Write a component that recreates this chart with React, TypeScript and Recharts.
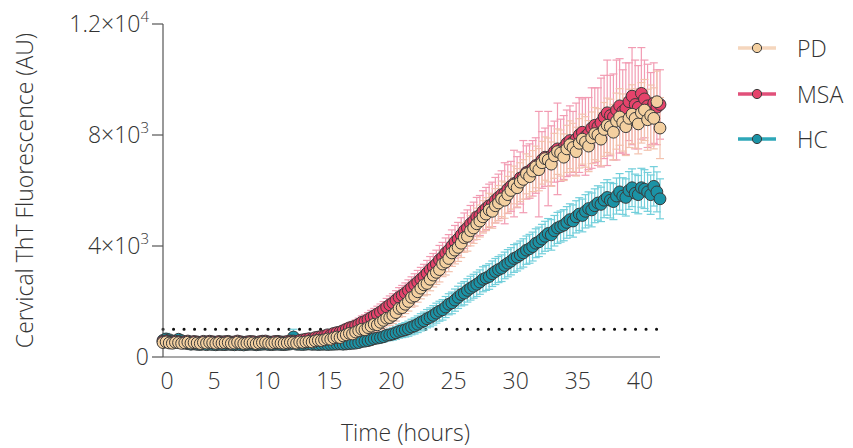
import React from "react";
import { ScatterChart, Scatter, XAxis, YAxis, ErrorBar, ReferenceLine, Label } from "recharts";

// readings every 15 min, 0 to 40 h
const HOURS_STEP = 0.25;

const PD_MEAN = [
  520, 545, 505, 495, 530, 515, 490, 510, 535, 500, 520, 505, 485, 525, 500, 530, 510, 490, 520, 500,
  510, 525, 490, 500, 535, 505, 485, 500, 520, 510, 480, 505, 525, 530, 500, 490, 515, 520, 500, 495,
  510, 530, 520, 500, 540, 525, 545, 560, 540, 580, 600, 590, 620, 650, 640, 690, 720, 700, 760, 800,
  850, 830, 900, 950, 1000, 980, 1060, 1110, 1180, 1160, 1250, 1320, 1400, 1420, 1500, 1600, 1750, 1780, 1900, 2000,
  2150, 2200, 2350, 2480, 2600, 2650, 2800, 2950, 3050, 3150, 3350, 3420, 3550, 3750, 3850, 3950, 4100, 4300, 4350, 4550,
  4650, 4800, 4900, 5050, 5150, 5300, 5250, 5450, 5550, 5700, 5650, 5850, 6000, 6200, 6100, 6300, 6400, 6600, 6500, 6700,
  6850, 6750, 7000, 7150, 7100, 6950, 7250, 7400, 7350, 7200, 7500, 7650, 7550, 7400, 7700, 7850, 7750, 7600, 7900, 8050,
  8000, 7850, 8200, 8350, 8300, 8100, 8500, 8650, 8450, 8300, 8600, 8750, 8600, 8400, 8800, 8900, 8550, 8700, 8600, 9200,
  8250,
];
const PD_ERR = [
  60, 65, 55, 60, 60, 55, 60, 65, 60, 55, 60, 60, 55, 60, 65, 60, 55, 60, 60, 55,
  60, 55, 60, 65, 60, 55, 60, 60, 55, 60, 65, 60, 55, 60, 60, 55, 60, 65, 60, 60,
  60, 65, 65, 70, 75, 80, 85, 90, 95, 100, 105, 110, 115, 120, 125, 130, 140, 150, 155, 160,
  170, 175, 180, 190, 200, 210, 215, 225, 235, 245, 255, 265, 275, 285, 295, 305, 315, 325, 335, 345,
  355, 365, 375, 385, 395, 405, 415, 425, 435, 445, 455, 465, 475, 485, 495, 505, 515, 525, 535, 545,
  555, 565, 575, 585, 595, 600, 610, 620, 630, 640, 650, 660, 670, 680, 690, 700, 710, 720, 730, 740,
  750, 760, 770, 780, 790, 800, 810, 820, 830, 840, 850, 860, 870, 880, 890, 900, 910, 920, 930, 940,
  950, 960, 970, 980, 990, 1000, 1010, 1020, 1030, 1040, 1050, 1060, 1070, 1080, 1090, 1100, 1100, 1100, 1100, 1100,
  1100,
];

const MSA_MEAN = [
  560, 580, 545, 540, 570, 555, 530, 550, 575, 540, 560, 545, 530, 565, 545, 570, 550, 535, 560, 545,
  555, 565, 535, 545, 575, 550, 530, 545, 560, 555, 525, 550, 570, 575, 545, 535, 560, 565, 545, 540,
  560, 580, 575, 560, 600, 620, 640, 660, 650, 700, 720, 740, 760, 800, 790, 850, 880, 900, 950, 1000,
  1050, 1080, 1120, 1180, 1250, 1280, 1350, 1420, 1480, 1550, 1620, 1700, 1800, 1880, 1950, 2050, 2150, 2220, 2300, 2400,
  2500, 2600, 2700, 2800, 2900, 3020, 3150, 3250, 3350, 3500, 3600, 3750, 3850, 4000, 4150, 4250, 4400, 4550, 4650, 4800,
  4900, 5050, 5100, 5250, 5350, 5450, 5500, 5650, 5750, 5850, 5900, 6050, 6150, 6250, 6300, 6450, 6500, 6650, 6700, 6800,
  6900, 6950, 7100, 7200, 7150, 7250, 7400, 7500, 7450, 7550, 7700, 7800, 7750, 7850, 8000, 8100, 7950, 8050, 8250, 8350,
  8300, 8450, 8650, 8800, 8700, 8650, 8900, 9050, 8850, 8950, 9200, 9400, 9100, 9000, 9500, 9300, 9050, 8950, 9150, 9000,
  9100,
];
const MSA_ERR = [
  80, 90, 70, 70, 80, 75, 70, 70, 80, 70, 75, 70, 70, 75, 70, 80, 70, 70, 75, 70,
  70, 75, 70, 70, 80, 70, 70, 70, 75, 70, 70, 70, 75, 80, 70, 70, 75, 75, 70, 70,
  75, 80, 80, 80, 90, 95, 100, 105, 110, 115, 120, 125, 130, 140, 145, 150, 160, 165, 175, 180,
  190, 200, 210, 220, 230, 240, 250, 260, 270, 280, 290, 300, 310, 320, 330, 340, 350, 360, 370, 380,
  390, 400, 420, 430, 440, 460, 470, 480, 500, 520, 530, 540, 560, 580, 590, 600, 620, 640, 650, 660,
  680, 700, 720, 740, 760, 780, 800, 820, 840, 860, 1100, 880, 900, 1200, 920, 940, 1300, 960, 980, 1000,
  1000, 1900, 1020, 1050, 1700, 1080, 1100, 1650, 1120, 1150, 1200, 1250, 1100, 1300, 1350, 1200, 1400, 1300, 1450, 1350,
  1400, 1600, 1500, 1900, 1450, 1550, 1800, 1700, 1500, 1650, 1400, 1750, 1600, 1500, 1650, 1400, 1500, 1300, 1450, 1350,
  1250,
];

const HC_MEAN = [
  600, 650, 620, 580, 520, 640, 590, 500, 480, 460, 470, 455, 450, 465, 445, 460, 450, 440, 455, 450,
  445, 460, 450, 440, 455, 445, 435, 450, 460, 455, 440, 450, 460, 465, 450, 445, 455, 460, 450, 445,
  455, 470, 720, 460, 455, 450, 460, 470, 455, 460, 450, 455, 460, 450, 455, 460, 465, 470, 460, 470,
  480, 490, 500, 520, 560, 570, 590, 620, 660, 680, 700, 730, 780, 800, 830, 870, 920, 950, 980, 1020,
  1080, 1120, 1180, 1250, 1300, 1380, 1430, 1500, 1580, 1650, 1700, 1800, 1900, 1950, 2050, 2150, 2250, 2300, 2400, 2480,
  2550, 2620, 2700, 2800, 2850, 2900, 3000, 3080, 3150, 3200, 3300, 3380, 3450, 3550, 3600, 3680, 3750, 3850, 3900, 3980,
  4100, 4150, 4250, 4350, 4450, 4400, 4550, 4650, 4700, 4750, 4850, 4950, 4900, 5050, 5150, 5100, 5250, 5350, 5300, 5450,
  5550, 5500, 5650, 5750, 5650, 5600, 5800, 5950, 5800, 5750, 6000, 6100, 5900, 5850, 6100, 6050, 5950, 5850, 6150, 5950,
  5700,
];
const HC_ERR = [
  150, 200, 150, 120, 100, 150, 120, 80, 60, 50, 50, 50, 50, 50, 50, 50, 50, 50, 50, 50,
  50, 45, 50, 55, 50, 45, 50, 50, 55, 50, 45, 50, 50, 55, 50, 45, 50, 50, 55, 50,
  50, 60, 280, 60, 50, 50, 55, 60, 55, 60, 60, 60, 65, 60, 70, 70, 75, 80, 80, 85,
  90, 95, 100, 110, 120, 130, 140, 150, 160, 170, 180, 190, 200, 210, 220, 230, 240, 250, 260, 270,
  280, 290, 300, 310, 320, 330, 340, 350, 360, 360, 370, 380, 380, 390, 400, 400, 410, 420, 420, 430,
  430, 440, 440, 450, 450, 460, 460, 470, 470, 480, 480, 490, 490, 500, 500, 500, 510, 510, 520, 520,
  520, 530, 530, 540, 540, 550, 550, 560, 560, 560, 570, 570, 580, 580, 590, 590, 600, 600, 610, 610,
  620, 620, 630, 640, 640, 650, 650, 660, 660, 670, 680, 680, 690, 690, 700, 700, 700, 710, 710, 720,
  720,
];

const X_TICKS = [0, 5, 10, 15, 20, 25, 30, 35, 40];
const Y_TICKS = [0, 4000, 8000, 12000];
const Y_TICK_TEXT: Record<number, [string, string]> = {
  0: ["0", ""],
  4000: ["4×10", "3"],
  8000: ["8×10", "3"],
  12000: ["1.2×10", "4"],
};
const THRESHOLD = 1000;

const SERIES = [
  { name: "PD", mean: PD_MEAN, err: PD_ERR, fill: "#f4d0a0", line: "#f5d6bd", bar: "#f3c2ae" },
  { name: "MSA", mean: MSA_MEAN, err: MSA_ERR, fill: "#e5436b", line: "#e1507a", bar: "#f29cb3" },
  { name: "HC", mean: HC_MEAN, err: HC_ERR, fill: "#1b93a6", line: "#2ea7b8", bar: "#72cfdb" },
];

const FONT = "'Open Sans', 'Noto Sans', sans-serif";
const INK = "#333";
const FS = 23;
const FW = 300;

const toPoints = (mean: number[], err: number[]) =>
  mean.map((v, i) => ({ t: i * HOURS_STEP, v, e: err[i] }));

const YTick = (props: any) => {
  const { x, y, payload } = props;
  const [base, sup] = Y_TICK_TEXT[payload.value] ?? [String(payload.value), ""];
  return (
    <text x={x - 1} y={y} dy="0.36em" textAnchor="end" fontFamily={FONT} fontWeight={FW} fontSize={FS} fill={INK}>
      <tspan>{base}</tspan>
      {sup && (
        <tspan dy={-10} fontSize={15}>
          {sup}
        </tspan>
      )}
    </text>
  );
};

// the source figure's hour labels sit a little left of their true positions
const XTick = (props: any) => {
  const { x, y, payload } = props;
  const v = payload.value;
  const nudge = v === 0 ? 4 : v === 5 ? -11 : -20;
  return (
    <text x={x + nudge} y={y + 24} textAnchor="middle" fontFamily={FONT} fontWeight={FW} fontSize={FS} fill={INK}>
      {v}
    </text>
  );
};

export default function App() {
  // draw HC first so PD ends up on top, like the original
  const drawOrder = [...SERIES].reverse();
  return (
    <div style={{ position: "absolute", left: 0, top: 0, width: 853, height: 448, background: "#fff" }}>
      <ScatterChart width={853} height={448} margin={{ top: 24, right: 193, left: 0, bottom: 0 }}>
        <XAxis
          type="number"
          dataKey="t"
          domain={[0, 40]}
          ticks={X_TICKS}
          tick={<XTick />}
          tickLine={false}
          axisLine={{ stroke: "#555", strokeWidth: 1.2 }}
          height={91}
        >
          <Label
            value="Time (hours)"
            position="insideBottom"
            offset={7}
            dx={-6}
            style={{ fontFamily: FONT, fontSize: FS, fontWeight: FW, fill: INK }}
          />
        </XAxis>
        <YAxis
          type="number"
          dataKey="v"
          domain={[0, 12000]}
          ticks={Y_TICKS}
          tick={<YTick />}
          tickSize={11}
          tickLine={{ stroke: "#555", strokeWidth: 1.2 }}
          axisLine={{ stroke: "#555", strokeWidth: 1.2 }}
          width={163}
        >
          <Label
            value="Cervical ThT Fluorescence (AU)"
            angle={-90}
            position="insideLeft"
            offset={25}
            style={{ fontFamily: FONT, fontSize: FS, fontWeight: FW, fill: INK, textAnchor: "middle" }}
          />
        </YAxis>
        <ReferenceLine
          y={THRESHOLD}
          stroke="#111"
          strokeWidth={3}
          strokeDasharray="0.1 10.4"
          strokeLinecap="round"
        />
        {drawOrder.map((s) => (
          <Scatter
            key={s.name}
            name={s.name}
            data={toPoints(s.mean, s.err)}
            isAnimationActive={false}
            shape={(p: any) => (
              <circle cx={p.cx} cy={p.cy} r={5.9} fill={s.fill} stroke="#3a3a3a" strokeWidth={1} />
            )}
          >
            <ErrorBar dataKey="e" direction="y" width={4} stroke={s.bar} strokeWidth={1.2} />
          </Scatter>
        ))}
      </ScatterChart>
      {SERIES.map((s, i) => (
        <div
          key={s.name}
          style={{
            position: "absolute",
            left: 737,
            top: 33 + i * 45.5,
            height: 30,
            display: "flex",
            alignItems: "center",
            fontFamily: FONT,
            fontSize: FS,
            fontWeight: FW,
            color: INK,
          }}
        >
          <svg width={40} height={30} style={{ marginRight: 20 }}>
            <line x1={1} y1={15} x2={39} y2={15} stroke={s.line} strokeWidth={3.5} />
            <circle cx={20} cy={15} r={4.6} fill={s.fill} stroke="#3a3a3a" strokeWidth={1} />
          </svg>
          <span>{s.name}</span>
        </div>
      ))}
    </div>
  );
}
